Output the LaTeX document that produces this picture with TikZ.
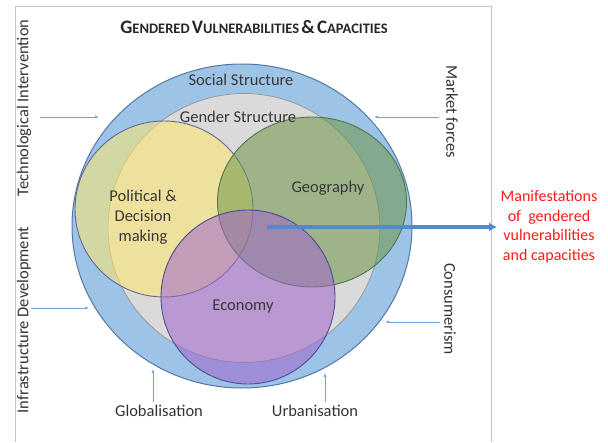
\documentclass[tikz,border=0pt]{standalone}
\usepackage{fontspec}
\setmainfont{Carlito}
\usetikzlibrary{arrows.meta,shapes.geometric}
\definecolor{socblue}{RGB}{157,195,230}
\definecolor{socedge}{RGB}{84,120,165}
\definecolor{gengray}{RGB}{218,218,218}
\definecolor{polyellow}{RGB}{255,232,110}
\definecolor{geogreen}{RGB}{110,150,70}
\definecolor{ecopurple}{RGB}{160,100,205}
\definecolor{pushblue}{RGB}{120,160,210}
\definecolor{outblue}{RGB}{80,140,205}
\definecolor{framecol}{RGB}{185,198,218}
\newcommand{\capsmall}[2]{{\fontsize{19}{22}\selectfont #1}{\fontsize{14.5}{17}\selectfont #2}}

\begin{document}
\begin{tikzpicture}[x=1pt,y=-1pt,
    lbl/.style={font=\fontsize{16.5}{20}\selectfont, text=black!78, align=center},
    side/.style={font=\fontsize{16.5}{18}\selectfont, text=black!80},
    push/.style={-{Latex[length=4pt,width=3pt]}, draw=pushblue, line width=0.6pt},
    blob/.style={ellipse, inner sep=0pt, line width=0.9pt, fill opacity=0.55}]
    \useasboundingbox (0,0) rectangle (608,442);
    \draw[framecol, line width=0.7pt] (15,442) -- (15,6) -- (491,6) -- (491,442);

    % nested structures
    \node[ellipse, inner sep=0pt, minimum width=340pt, minimum height=324pt,
          fill=socblue, draw=socedge, line width=1pt] (social) at (242,226) {};
    \node[ellipse, inner sep=0pt, minimum width=272pt, minimum height=269pt,
          fill=gengray, draw=gray!80, line width=0.8pt] (gender) at (244,228) {};

    % overlapping domains
    \node[blob, minimum width=178pt, minimum height=176pt, fill=polyellow,
          draw=blue!20!gray] (polit) at (164,209) {};
    \node[blob, minimum width=189pt, minimum height=170pt, fill=geogreen,
          draw=green!25!black!70] (geo) at (312,202) {};
    \node[blob, minimum width=174pt, minimum height=174pt, fill=ecopurple,
          draw=blue!40!black!70] (econ) at (248,297) {};

    \node[lbl] (soclbl) at (241,80) {Social Structure};
    \node[lbl] (genlbl) at (238,117) {Gender Structure};
    \node[lbl] (pollbl) at (143,217) {Political \&\\Decision\\making};
    \node[lbl] (geolbl) at (328,188) {Geography};
    \node[lbl] (ecolbl) at (243,307) {Economy};

    \node[text=black!85] (title) at (254,27)
        {\bfseries\capsmall{G}{ENDERED} \capsmall{V}{ULNERABILITIES} \capsmall{\&}{} \capsmall{C}{APACITIES}};

    % outside forces
    \node[side, rotate=90] (tech) at (24,108) {Technological Intervention};
    \node[side, rotate=90] (infra) at (24,320) {Infrastructure Development};
    \node[side, rotate=-90] (market) at (452,112) {Market forces};
    \node[side, rotate=-90] (consum) at (450,309) {Consumerism};
    \node[side] (glob) at (159,411) {Globalisation};
    \node[side] (urban) at (315,411) {Urbanisation};

    \coordinate (techs) at (40,117);   \coordinate (techt) at (99,117);
    \coordinate (infras) at (31,308);  \coordinate (infrat) at (89,308);
    \coordinate (markets) at (439,117); \coordinate (markett) at (374,117);
    \coordinate (consums) at (440,322); \coordinate (consumt) at (385,322);
    \coordinate (globt) at (153,369);  \coordinate (urbant) at (325,373);
    \draw[push] (techs) -- (techt);
    \draw[push] (infras) -- (infrat);
    \draw[push] (markets) -- (markett);
    \draw[push] (consums) -- (consumt);
    \draw[push] (glob.north -| globt) -- (globt);
    \draw[push] (urban.north -| urbant) -- (urbant);

    % result
    \node[font=\fontsize{16}{19.5}\selectfont, text=red!90!white, align=center] (manif) at (549,227)
        {Manifestations\\of~ gendered\\vulnerabilities\\and capacities};
    \coordinate (hub) at (267,227);
    \draw[-{Latex[length=8pt,width=9pt]}, draw=outblue, line width=3.2pt] (hub) -- (manif.west);
\end{tikzpicture}
\end{document}
